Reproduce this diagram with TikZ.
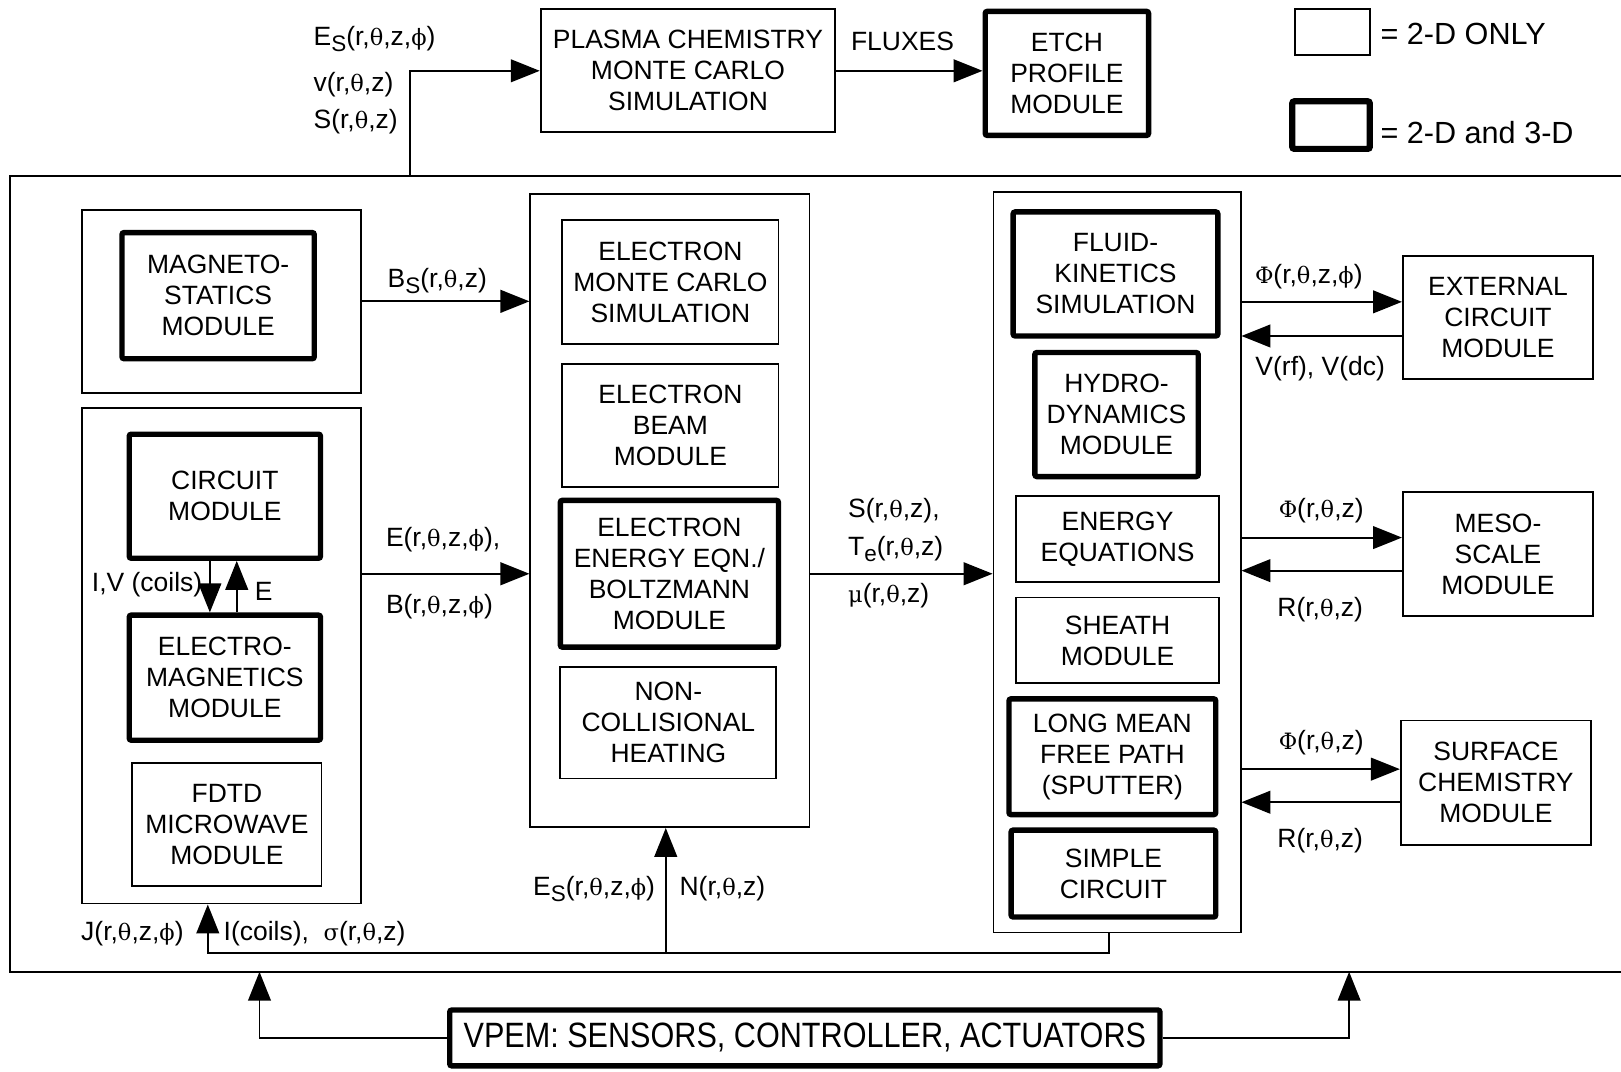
\documentclass[tikz,border=0pt]{standalone}
\usepackage{fontspec}
\usepackage{graphicx}
\setmainfont{Liberation Sans}
\newfontfamily\gk{DejaVu Serif}[Scale=0.85]
\usetikzlibrary{arrows.meta,calc}
\newcommand\gth{{\gk θ}}
\newcommand\gph{{\gk ϕ}}
\newcommand\gsig{{\gk σ}}
\newcommand\gmu{{\gk μ}}
\newcommand\gPh{{\gk Φ}}
\newcommand\lsub[1]{\raisebox{-0.4ex}{\scalebox{0.85}{#1}}}
\tikzset{
  mbox/.style={draw, line width=0.9pt, inner sep=0pt, align=center},
  tbox/.style={draw, line width=2.6pt, inner sep=0pt, align=center, rounded corners=1pt},
  wh/.style 2 args={minimum width=#1*0.5pt, minimum height=#2*0.5pt},
  arr/.style={line width=0.9pt, -{Triangle[length=14pt,width=11pt]}},
  conn/.style={line width=0.9pt},
  lbl/.style={inner sep=0pt},
  big/.style={font=\fontsize{14.8}{17}\selectfont}
}
\begin{document}
\begin{tikzpicture}[x=0.5pt,y=-0.5pt,font=\fontsize{12.8}{15}\selectfont]
\useasboundingbox (0,0) rectangle (1568,1036);

% outer frame
\draw[conn] (1580,170) -- (10,170) -- (10,940) -- (1580,940);

% top row
\node[mbox, wh={285}{119}] (plasma) at (665.5,68.5) {PLASMA CHEMISTRY\\MONTE CARLO\\SIMULATION};
\node[tbox, wh={158}{120}] (etch) at (1032,71) {ETCH\\PROFILE\\MODULE};
\node[mbox, wh={72}{44}] (leg1) at (1289,31) {};
\node[tbox, line width=3pt, wh={75}{46}] (leg2) at (1287.5,121) {};
\node[lbl, big, anchor=west] (leg1t) at (1335,33) {= 2-D ONLY};
\node[lbl, big, anchor=west] (leg2t) at (1335,128) {= 2-D and 3-D};

% left column
\node[mbox, wh={270}{177}] (magout) at (214,291.5) {};
\node[tbox, wh={186}{122}] (magneto) at (211,286) {MAGNETO-\\STATICS\\MODULE};
\node[mbox, wh={270}{479}] (circgrp) at (214,634.5) {};
\node[tbox, wh={185}{120}] (circuit) at (217.5,480) {CIRCUIT\\MODULE};
\node[tbox, wh={185}{121}] (emag) at (217.5,655.5) {ELECTRO-\\MAGNETICS\\MODULE};
\node[mbox, wh={183}{119}] (fdtd) at (219.5,797.5) {FDTD\\MICROWAVE\\MODULE};

% middle column
\node[mbox, wh={270}{612}] (midgrp) at (648,494) {};
\node[mbox, wh={209}{120}] (emc) at (648.5,273) {ELECTRON\\MONTE CARLO\\SIMULATION};
\node[mbox, wh={209}{119}] (ebeam) at (648.5,411.5) {ELECTRON\\BEAM\\MODULE};
\node[tbox, wh={211}{142}] (eenergy) at (647.5,555) {ELECTRON\\ENERGY EQN./\\BOLTZMANN\\MODULE};
\node[mbox, wh={209}{108}] (noncoll) at (646.5,699) {NON-\\COLLISIONAL\\HEATING};

% right column
\node[mbox, wh={239}{716}] (rgrp) at (1080.5,544) {};
\node[tbox, wh={198}{120}] (fluid) at (1079,265) {FLUID-\\KINETICS\\SIMULATION};
\node[tbox, wh={158}{120}] (hydro) at (1080,401) {HYDRO-\\DYNAMICS\\MODULE};
\node[mbox, wh={196}{83}] (energyeq) at (1081,521.5) {ENERGY\\EQUATIONS};
\node[mbox, wh={196}{83}] (sheath) at (1081,619.5) {SHEATH\\MODULE};
\node[tbox, wh={200}{112}] (lmfp) at (1076,732) {LONG MEAN\\FREE PATH\\(SPUTTER)};
\node[tbox, wh={198}{84}] (simple) at (1077,845) {SIMPLE\\CIRCUIT};

% far right modules
\node[mbox, wh={184}{119}] (ext) at (1449,307.5) {EXTERNAL\\CIRCUIT\\MODULE};
\node[mbox, wh={184}{120}] (meso) at (1449,536) {MESO-\\SCALE\\MODULE};
\node[mbox, wh={184}{120}] (surf) at (1447,757) {SURFACE\\CHEMISTRY\\MODULE};

% VPEM
\node[tbox, wh={687}{54}] (vpem) at (778.5,1004) {\fontsize{14.8}{17}\selectfont\scalebox{1}[1.15]{VPEM: SENSORS, CONTROLLER, ACTUATORS}};

% coordinates
\coordinate (pin) at (397,170);
\coordinate (fb) at (1073,922);
\coordinate (fbm) at (644,922);
\coordinate (ol) at (251,940);
\coordinate (or) at (1305,940);

% connectors
\draw[arr] (pin) |- (plasma.west);
\draw[arr] (plasma.east) -- (plasma.east -| etch.west);
\draw[arr] (magout.east) -- (magout.east -| midgrp.west);
\draw[arr] (circgrp.east |- eenergy.west) -- (midgrp.west |- eenergy.west);
\draw[arr] (midgrp.east |- eenergy.east) -- (rgrp.west |- eenergy.east);
\draw[arr] (203,0 |- circuit.south) -- (203,0 |- emag.north);
\draw[arr] (229,0 |- emag.north) -- (229,0 |- circuit.south);

\draw[arr] (rgrp.east |- 0,292) -- (ext.west |- 0,292);
\draw[arr] (ext.west |- 0,325) -- (rgrp.east |- 0,325);
\draw[arr] (rgrp.east |- 0,520) -- (meso.west |- 0,520);
\draw[arr] (meso.west |- 0,552) -- (rgrp.east |- 0,552);
\draw[arr] (rgrp.east |- 0,744) -- (surf.west |- 0,744);
\draw[arr] (surf.west |- 0,776) -- (rgrp.east |- 0,776);

\draw[arr] (rgrp.south -| fb) -- (fb) -- (201,922) -- (201,0 |- circgrp.south);
\draw[arr] (fbm) -- (fbm |- midgrp.south);

\draw[arr] (vpem.west) -| (ol);
\draw[arr] (vpem.east) -| (or);

% labels
\node[lbl, anchor=west] (lEs) at (303,38) {E\lsub{S}(r,\gth,z,\gph)};
\node[lbl, anchor=west] (lv) at (303,82) {v(r,\gth,z)};
\node[lbl, anchor=west] (lS) at (303,118) {S(r,\gth,z)};
\node[lbl] (lflux) at (873,40) {FLUXES};
\node[lbl] (lBs) at (423,272) {B\lsub{S}(r,\gth,z)};
\node[lbl, anchor=west] (lE) at (373,522) {E(r,\gth,z,\gph),};
\node[lbl, anchor=west] (lB) at (373,587) {B(r,\gth,z,\gph)};
\node[lbl, anchor=east] (lIV) at (196,566) {I,V (coils)};
\node[lbl] (lEc) at (255,572) {E};
\node[lbl, anchor=west] (lSm) at (820,494) {S(r,\gth,z),};
\node[lbl, anchor=west] (lTe) at (820,531) {T\lsub{e}(r,\gth,z)};
\node[lbl, anchor=west] (lmu) at (820,576) {\gmu(r,\gth,z)};
\node[lbl, anchor=east] (lEs2) at (634,860) {E\lsub{S}(r,\gth,z,\gph)};
\node[lbl, anchor=west] (lN) at (657,860) {N(r,\gth,z)};
\node[lbl, anchor=east] (lJ) at (178,903) {J(r,\gth,z,\gph)};
\node[lbl, anchor=west] (lIc) at (216,903) {I(coils),\ \ \gsig(r,\gth,z)};
\node[lbl] (lP1) at (1266,268) {\gPh(r,\gth,z,\gph)};
\node[lbl] (lV) at (1277,357) {V(rf), V(dc)};
\node[lbl] (lP2) at (1278,494) {\gPh(r,\gth,z)};
\node[lbl] (lR2) at (1277,590) {R(r,\gth,z)};
\node[lbl] (lP3) at (1278,718) {\gPh(r,\gth,z)};
\node[lbl] (lR3) at (1277,813) {R(r,\gth,z)};
\end{tikzpicture}
\end{document}
